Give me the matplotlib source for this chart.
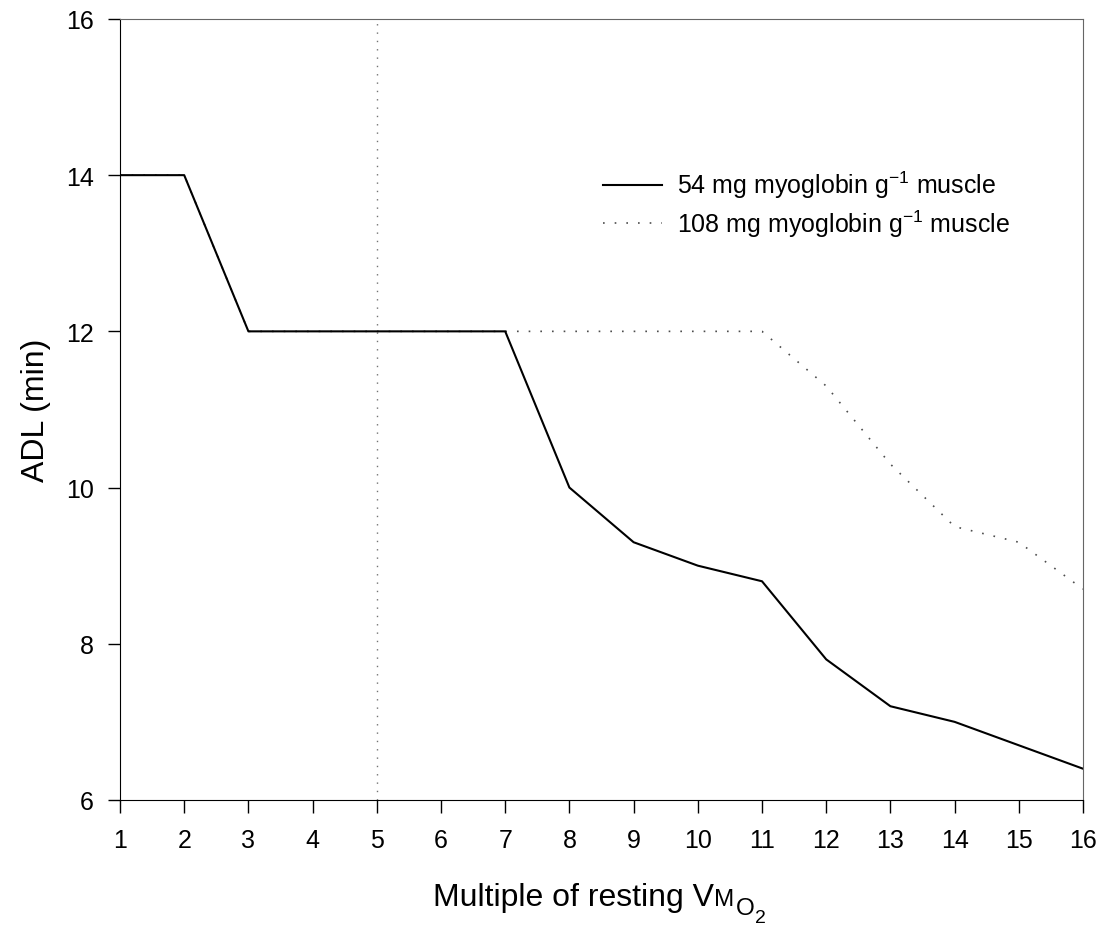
import numpy as np
import matplotlib
matplotlib.use("Agg")
import matplotlib.pyplot as plt

plt.rcParams['font.family'] = ['Liberation Sans', 'DejaVu Sans']

# data ------------------------------------------------------------------
multiple = [1, 2, 3, 4, 5, 6, 7, 8, 9, 10, 11, 12, 13, 14, 15, 16]
adl_54 = [14, 14, 12, 12, 12, 12, 12, 10, 9.3, 9.0, 8.8, 7.8, 7.2, 7.0, 6.7, 6.4]
adl_108 = [14, 14, 12, 12, 12, 12, 12, 12, 12, 12, 12, 11.3, 10.3, 9.5, 9.3, 8.7]
label_54 = r'54 mg myoglobin g$\mathregular{^{-1}}$ muscle'
label_108 = r'108 mg myoglobin g$\mathregular{^{-1}}$ muscle'
vline_x = 5
xticks = list(range(1, 17))
yticks = [6, 8, 10, 12, 14, 16]

# figure ----------------------------------------------------------------
fig = plt.figure(figsize=(11.05, 9.28), dpi=100)
ax = fig.add_axes([0.1086, 0.1369, 0.8715, 0.8416])

ax.axvline(vline_x, color='0.45', linestyle=(0, (1, 5)), linewidth=1.0)
ax.plot(multiple, adl_108, color='0.3', linestyle=(0, (1, 6)), linewidth=1.2, label=label_108)
ax.plot(multiple, adl_54, color='black', linewidth=1.5, label=label_54)

ax.set_xlim(1, 16)
ax.set_ylim(6, 16)
ax.set_xticks(xticks)
ax.set_yticks(yticks)
ax.tick_params(direction='out', length=9, width=1, labelsize=18)
ax.tick_params(axis='x', pad=11)
ax.tick_params(axis='y', pad=10)
ax.spines['top'].set_color('0.4')
ax.spines['right'].set_color('0.4')

ax.set_ylabel('ADL (min)', fontsize=23)
ax.yaxis.set_label_coords(-0.072, 0.5)

# x label with small M and O2 subscript
t1 = fig.text(433 / 1105, 1 - 906 / 928, 'Multiple of resting V', fontsize=23,
              ha='left', va='baseline')
t2 = ax.annotate('M', xy=(1, 0), xycoords=t1, xytext=(0.3, 1.2), textcoords='offset points',
                 fontsize=17.5, ha='left', va='bottom')
t3 = ax.annotate('O', xy=(1, 0), xycoords=t2, xytext=(0.8, -6.5),
                 textcoords='offset points', fontsize=17.5, ha='left', va='bottom')
t4 = ax.annotate('2', xy=(1, 0), xycoords=t3, xytext=(0.3, -4.5),
                 textcoords='offset points', fontsize=14, ha='left', va='bottom')

handles, labels = ax.get_legend_handles_labels()
leg = ax.legend(handles[::-1], labels[::-1], loc='center left',
                bbox_to_anchor=(603 / 1105, 1 - 205 / 928), bbox_transform=fig.transFigure,
                frameon=False, fontsize=18, handlelength=2.35, handletextpad=0.6,
                labelspacing=0.3, borderpad=0, borderaxespad=0)

fig.savefig('out.png', dpi=100)
